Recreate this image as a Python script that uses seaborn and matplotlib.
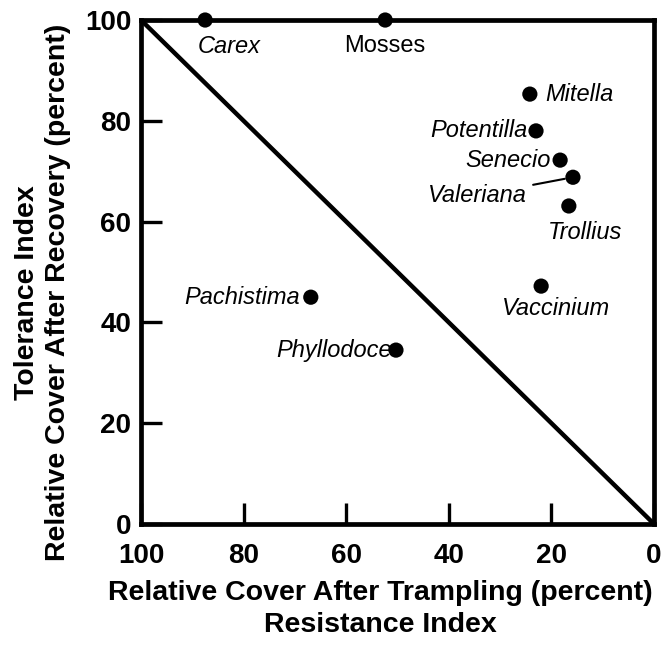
import matplotlib
matplotlib.use("Agg")
import matplotlib.pyplot as plt
import pandas as pd
import seaborn as sns

species = ["Carex", "Mosses", "Mitella", "Potentilla", "Senecio", "Valeriana",
           "Trollius", "Vaccinium", "Pachistima", "Phyllodoce"]
resistance = [87.5, 52.4, 24.2, 23.0, 18.3, 15.8, 16.6, 22.0, 66.9, 50.3]
tolerance = [100, 100, 85.3, 78.0, 72.2, 68.8, 63.1, 47.2, 45.0, 34.5]
italic = [True, False, True, True, True, True, True, True, True, True]
# label offsets in points and alignment
label_pos = {
    "Carex": (-5, -11, "left", "top"),
    "Mosses": (0, -11, "center", "top"),
    "Mitella": (11, 0, "left", "center"),
    "Potentilla": (-6, 0, "right", "center"),
    "Senecio": (-7, 0, "right", "center"),
    "Trollius": (12, -11, "center", "top"),
    "Vaccinium": (11, -8, "center", "top"),
    "Pachistima": (-8, 0, "right", "center"),
    "Phyllodoce": (-3, 0, "right", "center"),
}
ticks = [0, 20, 40, 60, 80, 100]

df = pd.DataFrame({"species": species, "resistance": resistance,
                   "tolerance": tolerance})

sns.set_theme(style="ticks")
plt.rcParams["font.family"] = ["Liberation Sans", "DejaVu Sans"]
for k in ["text.color", "axes.labelcolor", "xtick.color", "ytick.color",
          "axes.edgecolor"]:
    plt.rcParams[k] = "black"

fig = plt.figure(figsize=(6.67, 6.46), dpi=100)
ax = fig.add_axes([0.2114, 0.1889, 0.7691, 0.7801])

ax.plot([100, 0], [100, 0], color="black", lw=3.2, solid_capstyle="butt",
        zorder=2)
sns.scatterplot(data=df, x="resistance", y="tolerance", color="black",
                s=120, edgecolor="none", ax=ax, zorder=3, clip_on=False)

for name, xv, yv, it in zip(species, resistance, tolerance, italic):
    style = "italic" if it else "normal"
    if name == "Valeriana":
        ax.annotate(name, xy=(xv, yv), xytext=(-33, -13),
                    textcoords="offset points", ha="right", va="center",
                    fontsize=17, style=style,
                    arrowprops=dict(arrowstyle="-", color="black", lw=1.5,
                                    shrinkA=2, shrinkB=6))
        continue
    dx, dy, ha, va = label_pos[name]
    ax.annotate(name, xy=(xv, yv), xytext=(dx, dy), textcoords="offset points",
                ha=ha, va=va, fontsize=17, style=style)

ax.set_xlim(100, 0)
ax.set_ylim(0, 100)
ax.set_xticks(ticks)
ax.set_yticks(ticks)
for s in ax.spines.values():
    s.set_linewidth(3.4)
    s.set_visible(True)
ax.tick_params(direction="in", length=15, width=2.4, labelsize=20)
ax.tick_params(axis="x", pad=14)
ax.tick_params(axis="y", pad=7)
for lab in ax.get_xticklabels() + ax.get_yticklabels():
    lab.set_fontweight("bold")

ax.set_xlabel("Relative Cover After Trampling (percent)\nResistance Index",
              fontsize=20.5, fontweight="bold", linespacing=1.3)
ax.set_ylabel("Tolerance Index\nRelative Cover After Recovery (percent)",
              fontsize=20.5, fontweight="bold", linespacing=1.25)
ax.xaxis.set_label_coords(0.466, -0.112)
ax.xaxis.label.set_va("top")
ax.yaxis.set_label_coords(-0.136, 0.46)

fig.savefig("out.png", dpi=100)
